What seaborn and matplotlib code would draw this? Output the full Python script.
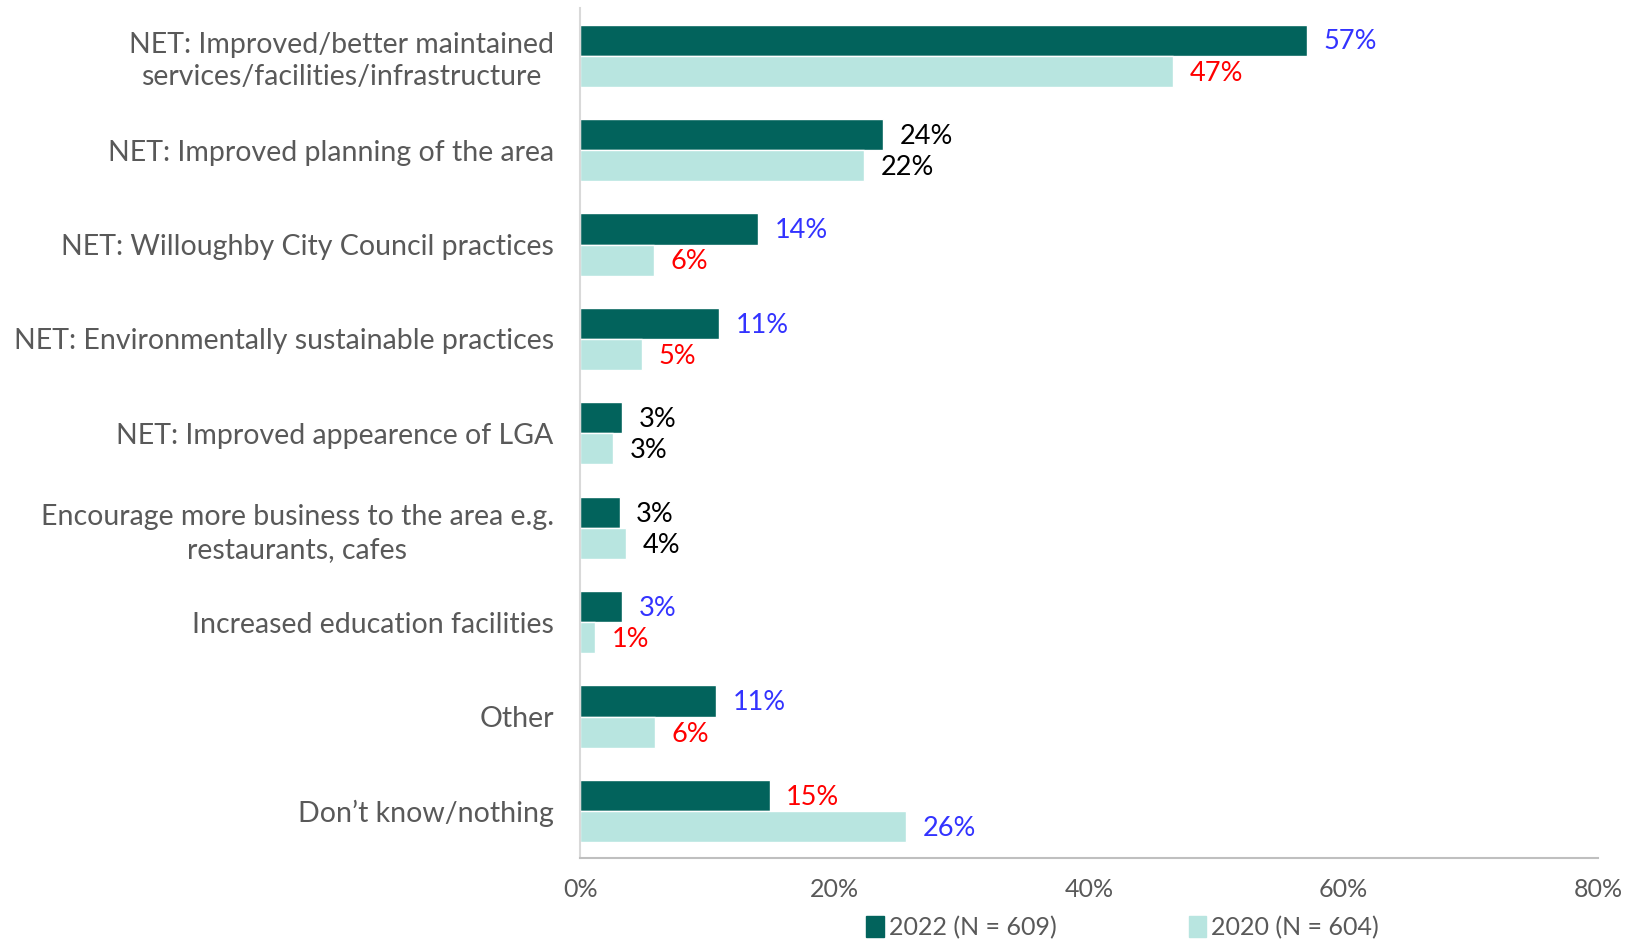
import pandas as pd
import matplotlib.pyplot as plt
import seaborn as sns
from matplotlib.ticker import PercentFormatter
from matplotlib.patches import Patch

# data
categories = [
    "NET: Improved/better maintained\nservices/facilities/infrastructure",
    "NET: Improved planning of the area",
    "NET: Willoughby City Council practices",
    "NET: Environmentally sustainable practices",
    "NET: Improved appearence of LGA",
    "Encourage more business to the area e.g.\nrestaurants, cafes",
    "Increased education facilities",
    "Other",
    "Don\u2019t know/nothing",
]
series = ["2022 (N = 609)", "2020 (N = 604)"]
values_2022 = [57.1, 23.8, 14.0, 10.9, 3.3, 3.1, 3.3, 10.7, 14.9]
values_2020 = [46.6, 22.3, 5.8, 4.9, 2.6, 3.6, 1.2, 5.9, 25.6]
labels_2022 = ["57%", "24%", "14%", "11%", "3%", "3%", "3%", "11%", "15%"]
labels_2020 = ["47%", "22%", "6%", "5%", "3%", "4%", "1%", "6%", "26%"]

# label colours (significance markers in the original)
BLUE, RED, BLACK = "#3333ff", "#ff0000", "#000000"
colors_2022 = [BLUE, BLACK, BLUE, BLUE, BLACK, BLACK, BLUE, BLUE, RED]
colors_2020 = [RED, BLACK, RED, RED, BLACK, BLACK, RED, RED, BLUE]

df = pd.DataFrame({
    "category": categories * 2,
    "series": [series[0]] * len(categories) + [series[1]] * len(categories),
    "value": values_2022 + values_2020,
})

sns.set_style("white")
plt.rcParams["font.family"] = ["Lato", "DejaVu Sans"]

palette = {series[0]: "#02635c", series[1]: "#b8e5e0"}
grey = "#595959"

fig = plt.figure(figsize=(16.34, 9.4), dpi=100)
ax = fig.add_axes([0.355, 0.087, 0.623, 0.904])

sns.barplot(data=df, y="category", x="value", hue="series", palette=palette,
            orient="h", width=0.66, saturation=1, legend=False, ax=ax)

# value labels
for cont, labs, cols in zip(ax.containers, [labels_2022, labels_2020],
                            [colors_2022, colors_2020]):
    for bar, lab, col in zip(cont, labs, cols):
        ax.text(bar.get_width() + 1.3, bar.get_y() + bar.get_height() / 2 + 0.02,
                lab, color=col, va="center", ha="left", fontsize=19.5,
                family=["Liberation Sans Narrow", "Lato", "DejaVu Sans"])

ax.set_xlim(0, 80)
ax.set_xticks([0, 20, 40, 60, 80])
ax.xaxis.set_major_formatter(PercentFormatter(decimals=0))
ax.set_xlabel("")
ax.set_ylabel("")

for s in ["top", "right"]:
    ax.spines[s].set_visible(False)
ax.spines["left"].set_color("#d9d9d9")
ax.spines["left"].set_linewidth(1.5)
ax.spines["bottom"].set_color("#bfbfbf")
ax.spines["bottom"].set_linewidth(1.5)

ax.tick_params(axis="x", direction="out", length=8, width=1.2, color="#bfbfbf",
               labelsize=18, labelcolor=grey, pad=6)
ax.tick_params(axis="y", length=0, labelsize=20.5, labelcolor=grey, pad=19)
for t in ax.get_yticklabels():
    t.set_multialignment("center")
    t.set_linespacing(1.3)

handles = [Patch(color=palette[s], label=s) for s in series]
fig.legend(handles=handles, loc="center", bbox_to_anchor=(0.687, 0.013),
           ncol=2, frameon=False, fontsize=18, labelcolor=grey,
           handlelength=0.7, handleheight=0.9, handletextpad=0.2,
           columnspacing=5.3)

fig.savefig("out.png", dpi=100)
